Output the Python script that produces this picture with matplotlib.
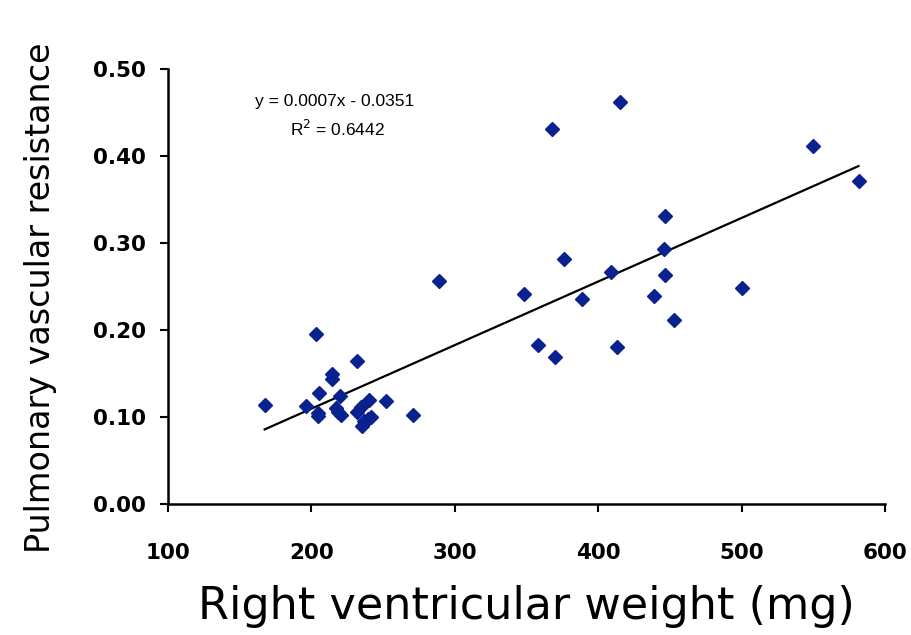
import numpy as np
import matplotlib
matplotlib.use("Agg")
import matplotlib.pyplot as plt

# Right ventricular weight (mg)
rv_weight = [167.4, 203.3, 231.7, 214.1, 214.1, 205.4, 219.9, 196.2, 204.5, 204.5,
             217.1, 218.7, 220.3, 231.5, 234.5, 240.3, 251.9, 270.5, 235.0, 236.6,
             239.6, 241.3, 289.1, 348.3, 376.0, 388.5, 409.2, 358.0, 370.2, 412.9,
             415.0, 368.1, 549.5, 581.5, 446.8, 446.1, 446.8, 439.1, 452.8, 500.5]
# Pulmonary vascular resistance
pvr = [0.114, 0.195, 0.164, 0.149, 0.144, 0.128, 0.124, 0.113, 0.105, 0.101,
       0.110, 0.106, 0.102, 0.106, 0.111, 0.1195, 0.118, 0.102, 0.090, 0.095,
       0.098, 0.100, 0.256, 0.241, 0.282, 0.236, 0.267, 0.183, 0.169, 0.180,
       0.462, 0.431, 0.411, 0.371, 0.331, 0.293, 0.263, 0.239, 0.212, 0.248]

x_ticks = [100, 200, 300, 400, 500, 600]
y_ticks = [0.00, 0.10, 0.20, 0.30, 0.40, 0.50]
equation_text = "y = 0.0007x - 0.0351"
r2_text = "R$^2$ = 0.6442"

x = np.array(rv_weight)
y = np.array(pvr)

fig = plt.figure(figsize=(9.11, 6.35), dpi=100)
ax = fig.add_axes([0.1844, 0.2063, 0.7871, 0.685])

ax.plot(x, y, linestyle="none", marker="D", markersize=7.2,
        color="#0A2290", markeredgecolor="#0A2290", zorder=3)

slope, intercept = np.polyfit(x, y, 1)
xl = np.array([x.min(), x.max()])
ax.plot(xl, slope * xl + intercept, color="black", linewidth=1.6, zorder=2)

ax.set_xlim(100, 600)
ax.set_ylim(0, 0.5)
ax.set_xticks(x_ticks)
ax.set_yticks(y_ticks)
ax.set_xticklabels([str(t) for t in x_ticks], fontsize=15.5, fontweight="bold")
ax.set_yticklabels([f"{t:.2f}" for t in y_ticks], fontsize=15.5, fontweight="bold")

for s in ["top", "right"]:
    ax.spines[s].set_visible(False)
for s in ["left", "bottom"]:
    ax.spines[s].set_linewidth(1.8)
    ax.spines[s].set_color("black")
ax.tick_params(axis="both", direction="out", length=6, width=1.5, colors="black")
ax.tick_params(axis="x", pad=22)
ax.tick_params(axis="y", pad=10)

ax.set_xlabel("Right ventricular weight (mg)", fontsize=32, labelpad=16)
ax.set_ylabel("Pulmonary vascular resistance", fontsize=24)
ax.yaxis.set_label_coords(-0.155, 0.474)

ax.text(0.233, 0.925, equation_text, transform=ax.transAxes, ha="center",
        va="center", fontsize=12.5, family="Liberation Sans")
ax.text(0.237, 0.862, r2_text, transform=ax.transAxes, ha="center",
        va="center", fontsize=12.5, family="Liberation Sans")

fig.savefig("out.png", dpi=100)
